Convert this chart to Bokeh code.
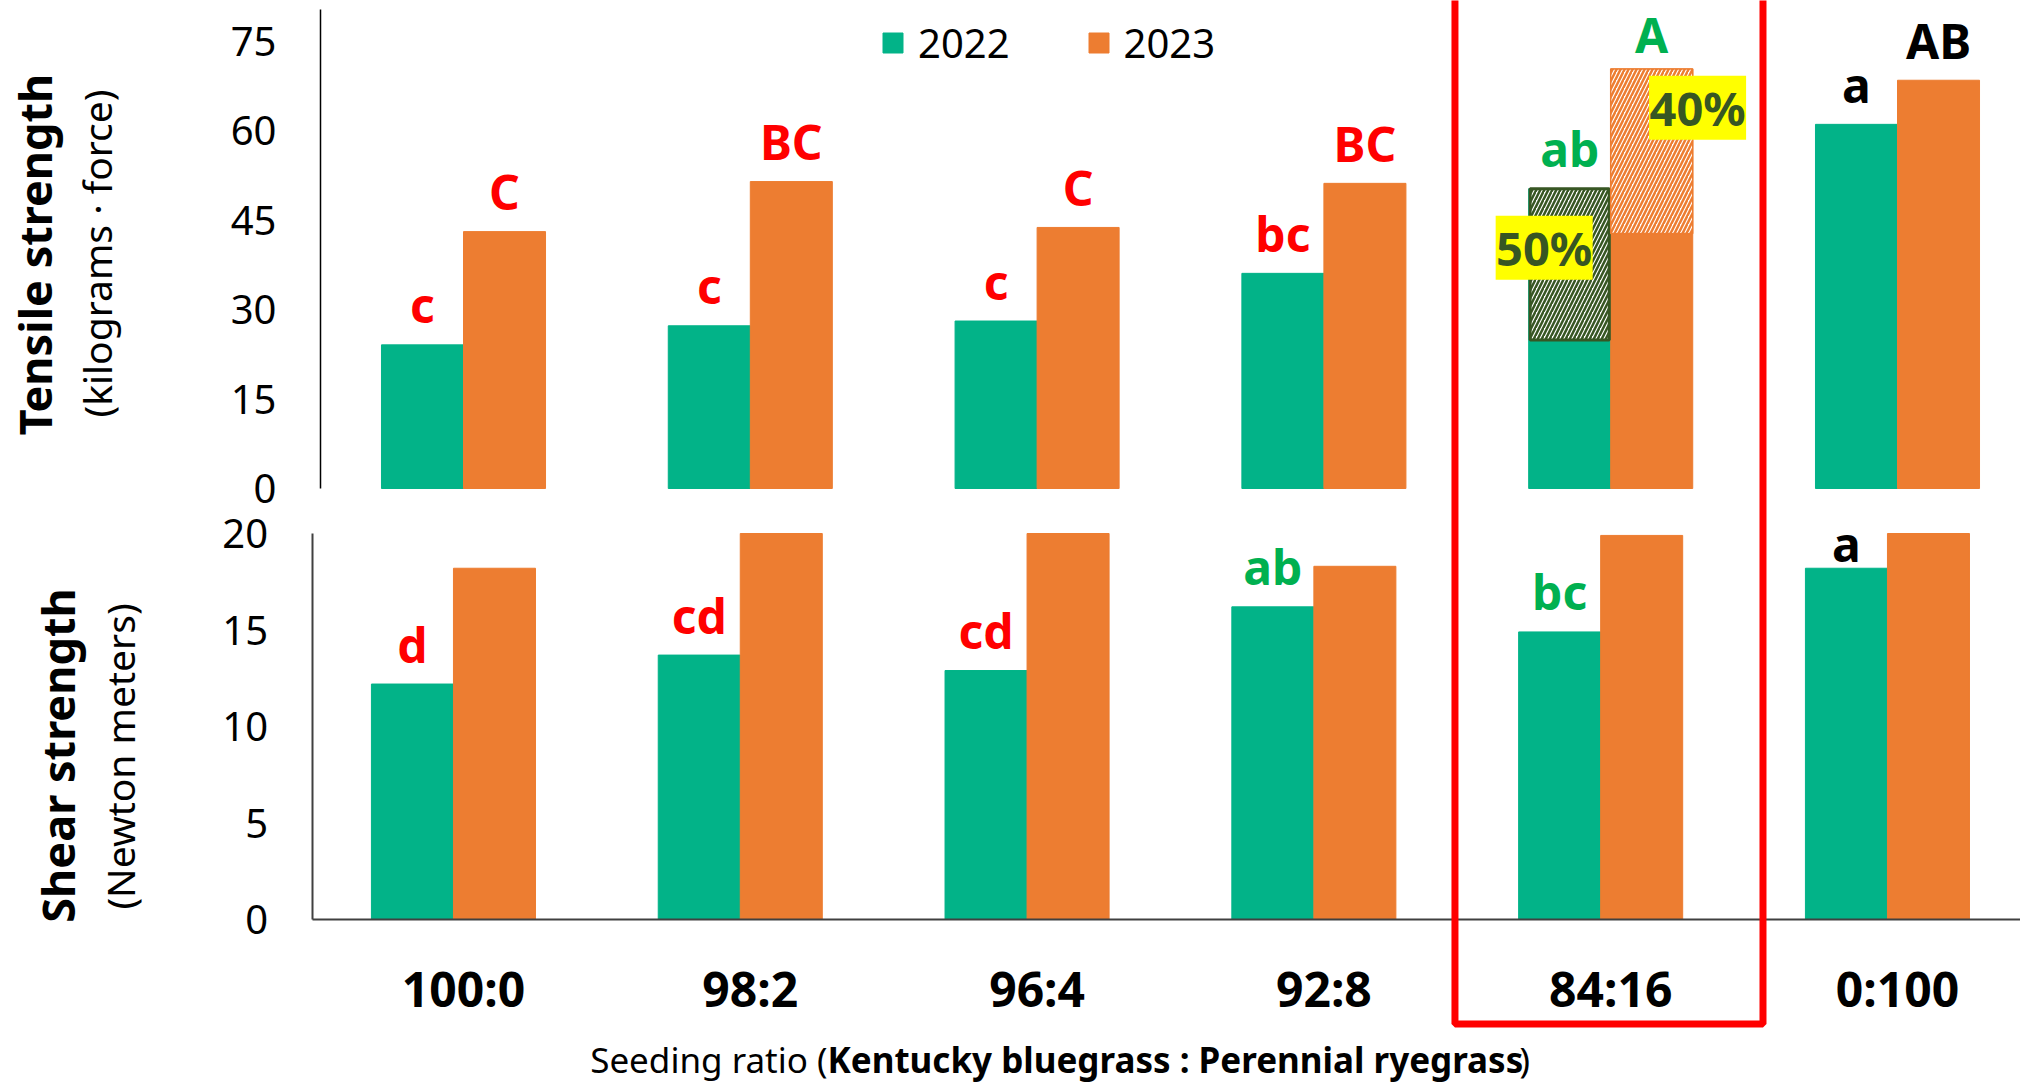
import numpy as np
from math import pi
from bokeh.plotting import figure
from bokeh.models import (Range1d, LinearAxis, FixedTicker, Legend, LegendItem,
                          BoxAnnotation, Label)
from bokeh.core.properties import value
from bokeh.embed import file_html
from bokeh.resources import INLINE

# ---------------- data ----------------
categories = ["100:0", "98:2", "96:4", "92:8", "84:16", "0:100"]
years = ["2022", "2023"]

tensile_2022 = [24.1, 27.3, 28.1, 36.1, 50.3, 61.1]
tensile_2023 = [43.1, 51.5, 43.8, 51.2, 70.4, 68.5]
tensile_letters_2022 = ["c", "c", "c", "bc", "ab", "a"]
tensile_letters_2023 = ["C", "BC", "C", "BC", "A", "AB"]

shear_2022 = [12.2, 13.7, 12.9, 16.2, 14.9, 18.2]
shear_2023 = [18.2, 20.0, 20.0, 18.3, 19.9, 20.0]
shear_letters_2022 = ["d", "cd", "cd", "ab", "bc", "a"]

highlight = "84:16"
highlight_solid_2022 = 24.9   # solid part of the highlighted bars (rest is hatched)
highlight_solid_2023 = 42.8
highlight_pct = ["50%", "40%"]

tensile_ticks = [0, 15, 30, 45, 60, 75]
shear_ticks = [0, 5, 10, 15, 20]

# ---------------- styles ----------------
RED, LGREEN, BLACK = "#FF0000", "#00B050", "#000000"
tensile_letter_colors = [RED, RED, RED, RED, LGREEN, BLACK]
shear_letter_colors = [RED, RED, RED, LGREEN, LGREEN, BLACK]
tensile_gap_2023 = [24, 24, 24, 24, 18, 24]  # px between bar top and letter
shear_letter_gap = [24, 24, 24, 24, 24, 9]
C22, C23 = "#02B388", "#ED7D31"
DKGREEN = "#375623"
FONT = "Noto Sans"
BASE_FIX = 16                                # baseline correction, px

W, H = 2020, 1085
GX0, GDX = 463.0, 286.8          # canvas px of first group, px per group
B0, BPX = 919.0, 19.3            # shear: canvas y of 0, px per unit
T0, TPX = 488.0, 5.96            # tensile: canvas y of 0, px per unit

p = figure(width=W, height=H, output_backend="svg", toolbar_location=None,
           x_range=Range1d(-GX0 / GDX, (W - GX0) / GDX),
           y_range=Range1d(-(H - B0) / BPX, B0 / BPX),
           x_axis_location=None, y_axis_location=None,
           min_border=0, outline_line_color=None)
p.extra_y_ranges = {"top": Range1d(-(H - T0) / TPX, T0 / TPX)}
p.grid.grid_line_color = None
p.background_fill_color = "white"
p.border_fill_color = "white"

x = np.arange(len(categories))
dodge, bar_w = 0.143, 0.286
shear_shift = -0.035
hi = categories.index(highlight)

# ---- tensile (top panel) ----
r22 = p.vbar(x=x - dodge, top=tensile_2022, width=bar_w, y_range_name="top",
             fill_color=C22, line_color=C22)
r23 = p.vbar(x=x + dodge, top=tensile_2023, width=bar_w, y_range_name="top",
             fill_color=C23, line_color=C23)
# hatched increase for highlighted ratio
p.vbar(x=[hi - dodge], bottom=[highlight_solid_2022], top=[tensile_2022[hi]],
       width=bar_w - 0.01, y_range_name="top", fill_color="white",
       line_color=DKGREEN, line_width=3, hatch_pattern="/", hatch_color=DKGREEN,
       hatch_scale=8, hatch_weight=2.5)
p.vbar(x=[hi + dodge], bottom=[highlight_solid_2023], top=[tensile_2023[hi]],
       width=bar_w, y_range_name="top", fill_color="white",
       line_color=C23, line_width=1.5, hatch_pattern="/", hatch_color=C23,
       hatch_scale=8, hatch_weight=2.5)

letter_kw = dict(text_align="center", text_baseline="alphabetic",
                 text_font=value(FONT), text_font_style="bold", text_font_size="48px")
p.text(x=x - dodge, y=tensile_2022, text=tensile_letters_2022, y_offset=-(24 + BASE_FIX),
       text_color=tensile_letter_colors, y_range_name="top", **letter_kw)
p.text(x=x + dodge, y=tensile_2023, text=tensile_letters_2023,
       y_offset=[-(g + BASE_FIX) for g in tensile_gap_2023],
       text_color=tensile_letter_colors, y_range_name="top", **letter_kw)

# percent tags
pct_x = [hi - 0.232, hi + 0.303]
pct_y = [40.4, 63.9]
p.rect(x=pct_x, y=pct_y, width=97, height=64, width_units="screen",
       height_units="screen", fill_color="#FFFF00", line_color=None,
       y_range_name="top")
p.text(x=pct_x, y=pct_y, text=highlight_pct, text_align="center",
       text_baseline="middle", text_color=DKGREEN, text_font=value(FONT),
       text_font_style="bold", text_font_size="47px", y_range_name="top")

# ---- shear (bottom panel) ----
p.vbar(x=x - dodge + shear_shift, top=shear_2022, width=bar_w,
       fill_color=C22, line_color=C22)
p.vbar(x=x + dodge + shear_shift, top=shear_2023, width=bar_w,
       fill_color=C23, line_color=C23)
p.text(x=x - dodge + shear_shift, y=shear_2022, text=shear_letters_2022,
       y_offset=[-(g + BASE_FIX) for g in shear_letter_gap],
       text_color=shear_letter_colors, **letter_kw)

# ---- highlight box ----
p.add_layout(BoxAnnotation(left=hi - 0.543, right=hi + 0.531, bottom=-5.41, top=60,
                           fill_alpha=0, line_color=RED, line_alpha=1.0, line_width=7))

# ---- axes ----
def style_y(ax):
    ax.axis_line_color = BLACK
    ax.axis_line_width = 1.5
    ax.major_tick_line_color = None
    ax.minor_tick_line_color = None
    ax.major_tick_out = 0
    ax.major_tick_in = 0
    ax.major_label_standoff = 44
    ax.major_label_text_font = FONT
    ax.major_label_text_font_size = "40px"
    ax.major_label_text_color = BLACK

ax_t = LinearAxis(y_range_name="top", fixed_location=-0.4986, bounds=(0, 80.3),
                  ticker=FixedTicker(ticks=tensile_ticks))
style_y(ax_t)
p.add_layout(ax_t, "left")

ax_s = LinearAxis(fixed_location=-0.528, bounds=(0, 20),
                  ticker=FixedTicker(ticks=shear_ticks))
style_y(ax_s)
ax_s.axis_line_color = "#404040"
ax_s.axis_line_width = 2
p.add_layout(ax_s, "left")

ax_x = LinearAxis(fixed_location=0, bounds=(-0.528, (W - GX0) / GDX),
                  ticker=FixedTicker(ticks=list(range(len(categories)))),
                  major_label_overrides={i: c for i, c in enumerate(categories)})
ax_x.axis_line_color = "#404040"
ax_x.axis_line_width = 2
ax_x.major_tick_line_color = None
ax_x.minor_tick_line_color = None
ax_x.major_tick_out = 0
ax_x.major_tick_in = 0
ax_x.major_label_standoff = 36
ax_x.major_label_text_font = FONT
ax_x.major_label_text_font_style = "bold"
ax_x.major_label_text_font_size = "48px"
ax_x.major_label_text_color = BLACK
p.add_layout(ax_x, "below")

# ---- legend ----
legend = Legend(items=[LegendItem(label=years[0], renderers=[r22]),
                       LegendItem(label=years[1], renderers=[r23])],
                orientation="horizontal", location=(880, H - 70),
                glyph_width=25, glyph_height=25, label_standoff=13, spacing=76,
                padding=0, margin=0, border_line_color=None,
                background_fill_alpha=0, label_text_font=FONT,
                label_text_font_size="40px", label_text_color=BLACK)
p.add_layout(legend)

# ---- titles ----
def lab(text, cx, cy, size, style="normal", angle=0.0, align="center", baseline="middle"):
    # cx, cy: canvas pixel anchor (y from top)
    p.add_layout(Label(text=text, x=cx, y=H - cy, x_units="screen", y_units="screen",
                       angle=angle, text_align=align, text_baseline=baseline,
                       text_font=FONT, text_font_style=style, text_font_size=size,
                       text_color=BLACK))

lab("Tensile strength", 34, 254, "45px", "bold", pi / 2)
lab("(kilograms \u00b7 force)", 96, 253, "39px", "normal", pi / 2)
lab("Shear strength", 57, 755, "45px", "bold", pi / 2)
lab("(Newton meters)", 119, 756, "39px", "normal", pi / 2)

lab("Seeding ratio (", 827, 1059, "35px", "normal", 0, "right", "middle")
lab("Kentucky bluegrass : Perennial ryegrass", 827, 1059, "35px", "bold", 0, "left", "middle")
lab(")", 1519, 1059, "35px", "normal", 0, "left", "middle")

open("out.html", "w").write(file_html(p, INLINE))
